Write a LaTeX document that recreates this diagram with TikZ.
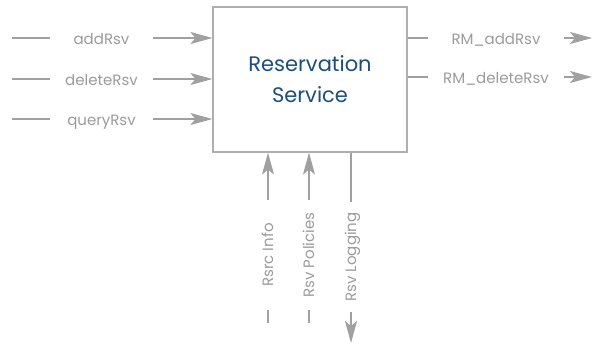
\documentclass[tikz,border=0pt]{standalone}
\usepackage{fontspec}
\setmainfont{Poppins}
\usetikzlibrary{arrows.meta}
\definecolor{wire}{RGB}{160,160,160}
\definecolor{lbl}{RGB}{155,155,155}
\definecolor{boxedge}{RGB}{175,175,175}
\definecolor{title}{RGB}{27,79,122}
\tikzset{
  flowtip/.tip={Stealth[length=22pt,width=12pt,inset=5pt]},
  wire/.style={draw=wire,line width=1.2pt},
  flow/.style={wire,-flowtip},
  lab/.style={text=lbl,font=\fontsize{15}{15}\selectfont,inner sep=0pt,
    minimum height=0pt,text depth=0pt},
  hlab/.style={lab,text height=13pt},
  vlab/.style={lab,text height=10pt,rotate=90,minimum width=110pt},
  svcbox/.style={draw=boxedge,line width=1.2pt,minimum width=194pt,
    minimum height=145pt,inner sep=0pt,align=center,text=title,
    font=\fontsize{21}{31}\selectfont}
}
\begin{document}
\begin{tikzpicture}[x=1pt,y=-1pt]
\useasboundingbox (0,0) rectangle (593,345);

% the service
\node[svcbox] (svc) at (310,79.5) {Reservation\\Service};

% incoming requests
\coordinate (inA) at (12,38);
\coordinate (inB) at (12,79);
\coordinate (inC) at (12,119);
\node[hlab,minimum width=103pt] (lA) at (101.5,38) {addRsv};
\node[hlab,minimum width=103pt] (lB) at (101.5,79) {deleteRsv};
\node[hlab,minimum width=103pt] (lC) at (101.5,119) {queryRsv};
\foreach \s/\l in {inA/lA,inB/lB,inC/lC}{
  \draw[wire] (\s) -- (\l.west);
  \draw[flow] (\l.east) -- (\l.east -| svc.west);
}

% outgoing calls to the resource manager
\coordinate (outA) at (592,38);
\coordinate (outB) at (592,77);
\node[hlab,minimum width=136pt] (rA) at (496,38) {RM\_addRsv};
\node[hlab,minimum width=136pt] (rB) at (496,77) {RM\_deleteRsv};
\foreach \l/\t in {rA/outA,rB/outB}{
  \draw[wire] (\l.west -| svc.east) -- (\l.west);
  \draw[flow] (\l.east) -- (\t);
}

% controls and logging below
\node[vlab] (bA) at (268,255) {Rsrc Info};
\node[vlab] (bB) at (309,255) {Rsv Policies};
\node[vlab] (bC) at (351,257) {Rsv Logging};
\coordinate (endA) at (268,323);
\coordinate (endB) at (309,323);
\coordinate (endC) at (351,343);
\draw[flow] (bA.east) -- (bA.east |- svc.south);
\draw[wire] (bA.west) -- (endA);
\draw[flow] (bB.east) -- (bB.east |- svc.south);
\draw[wire] (bB.west) -- (endB);
\draw[wire] (bC.east |- svc.south) -- (bC.east);
\draw[flow] (bC.west) -- (endC);
\end{tikzpicture}
\end{document}
